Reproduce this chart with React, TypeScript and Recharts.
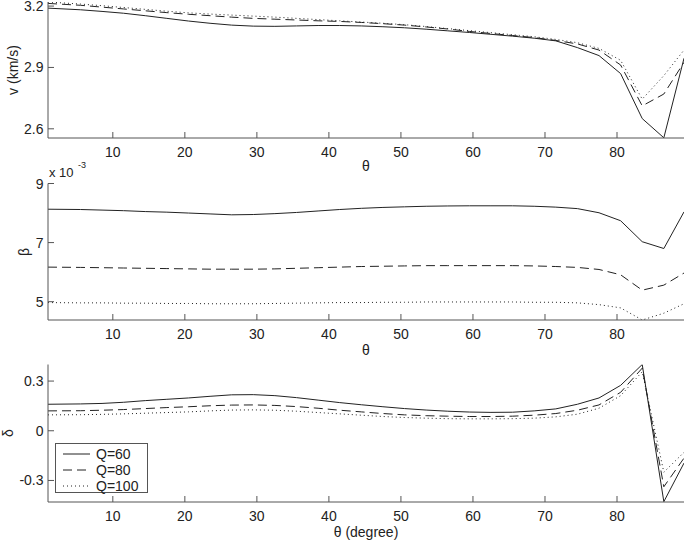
import React from 'react';
import { LineChart, Line, XAxis, YAxis } from 'recharts';

// ---- data ----
const theta = [1, 5.5, 8.5, 11.5, 14.5, 17.5, 20.5, 23.5, 26.5, 29.5, 32.5, 35.5, 38.5, 41.5, 44.5, 47.5, 50.5, 53.5, 56.5, 59.5, 62.5, 65.5, 68.5, 71.5, 74.5, 77.5, 80.5, 83.5, 86.5, 89.3];

const vQ60 = [3.19, 3.182, 3.174, 3.165, 3.153, 3.14, 3.127, 3.116, 3.107, 3.102, 3.101, 3.103, 3.105, 3.105, 3.103, 3.099, 3.094, 3.087, 3.079, 3.071, 3.062, 3.053, 3.043, 3.03, 2.997, 2.958, 2.87, 2.65, 2.556, 2.945];
const vQ80 = [3.213, 3.204, 3.195, 3.186, 3.177, 3.168, 3.16, 3.153, 3.146, 3.14, 3.136, 3.132, 3.128, 3.125, 3.12, 3.114, 3.107, 3.098, 3.088, 3.076, 3.066, 3.056, 3.046, 3.032, 3.015, 2.985, 2.912, 2.712, 2.77, 2.925];
const vQ100 = [3.22, 3.21, 3.202, 3.193, 3.184, 3.175, 3.167, 3.161, 3.156, 3.151, 3.146, 3.14, 3.134, 3.128, 3.122, 3.116, 3.109, 3.1, 3.09, 3.08, 3.07, 3.06, 3.05, 3.037, 3.021, 2.993, 2.935, 2.745, 2.86, 2.985];

// beta in units of 1e-3
const bQ60 = [8.13, 8.12, 8.1, 8.08, 8.05, 8.03, 8.0, 7.97, 7.94, 7.95, 7.98, 8.02, 8.07, 8.12, 8.16, 8.19, 8.21, 8.23, 8.24, 8.245, 8.245, 8.245, 8.23, 8.2, 8.15, 8.01, 7.74, 7.03, 6.8, 8.04];
const bQ80 = [6.17, 6.16, 6.15, 6.14, 6.13, 6.12, 6.11, 6.1, 6.1, 6.1, 6.11, 6.13, 6.15, 6.17, 6.19, 6.2, 6.21, 6.22, 6.22, 6.22, 6.22, 6.22, 6.21, 6.19, 6.16, 6.09, 5.91, 5.39, 5.56, 5.97];
const bQ100 = [4.97, 4.96, 4.96, 4.95, 4.95, 4.94, 4.94, 4.93, 4.93, 4.93, 4.94, 4.95, 4.96, 4.97, 4.97, 4.98, 4.98, 4.99, 4.99, 4.99, 4.99, 4.99, 4.98, 4.98, 4.96, 4.9, 4.79, 4.38, 4.61, 4.93];

const dQ60 = [0.16, 0.162, 0.165, 0.172, 0.182, 0.19, 0.198, 0.208, 0.217, 0.218, 0.212, 0.2, 0.185, 0.17, 0.157, 0.145, 0.134, 0.125, 0.118, 0.113, 0.111, 0.112, 0.12, 0.132, 0.16, 0.198, 0.274, 0.4, -0.428, -0.195];
const dQ80 = [0.12, 0.121, 0.124, 0.128, 0.134, 0.14, 0.145, 0.151, 0.155, 0.156, 0.153, 0.146, 0.136, 0.124, 0.114, 0.104, 0.096, 0.091, 0.088, 0.086, 0.086, 0.088, 0.094, 0.104, 0.124, 0.156, 0.232, 0.378, -0.338, -0.165];
const dQ100 = [0.096, 0.097, 0.099, 0.102, 0.106, 0.11, 0.114, 0.12, 0.125, 0.126, 0.124, 0.118, 0.11, 0.102, 0.094, 0.086, 0.08, 0.076, 0.073, 0.072, 0.072, 0.073, 0.076, 0.084, 0.1, 0.136, 0.212, 0.356, -0.25, -0.13];

const xTicks = [10, 20, 30, 40, 50, 60, 70, 80];
const vTicks = [2.6, 2.9, 3.2];
const bTicks = [5, 7, 9];
const dTicks = [-0.3, 0, 0.3];
const seriesNames = ['Q=60', 'Q=80', 'Q=100'];

// ---- styles ----
const FONT = '"Liberation Sans", Arial, Helvetica, sans-serif';
const FRAME = '#555';
const INK = '#222';
const TL = 6;
const dashes = [undefined, '9 5', '1 3'];

const BottomTick = (p: any) => (
  <g>
    <line x1={p.x} y1={p.y} x2={p.x} y2={p.y - TL} stroke={FRAME} />
    <text x={p.x} y={p.y + 18.5} textAnchor="middle" fontSize={14} fontFamily={FONT} fill={INK}>
      {p.payload.value}
    </text>
  </g>
);
const TopTick = (p: any) => (
  <line x1={p.x} y1={p.y} x2={p.x} y2={p.y + TL} stroke={FRAME} />
);
const makeLeftTick = (fmt: (v: number) => string) => (p: any) => (
  <g>
    <line x1={p.x} y1={p.y} x2={p.x + TL} y2={p.y} stroke={FRAME} />
    <text x={p.x - 4.5} y={p.y + 5} textAnchor="end" fontSize={14} fontFamily={FONT} fill={INK}>
      {fmt(p.payload.value)}
    </text>
  </g>
);
const RightTick = (p: any) => (
  <line x1={p.x} y1={p.y} x2={p.x - TL} y2={p.y} stroke={FRAME} />
);

function Panel(props: {
  series: number[][];
  top: number;
  height: number;
  marginTop: number;
  yDomain: [number, number];
  yTicks: number[];
  fmt: (v: number) => string;
}) {
  const { series, top, height, marginTop, yDomain, yTicks, fmt } = props;
  const data = theta.map((t, i) => ({ theta: t, q60: series[0][i], q80: series[1][i], q100: series[2][i] }));
  const keys = ['q60', 'q80', 'q100'];
  return (
    <div style={{ position: 'absolute', left: 0, top }}>
      <LineChart width={685} height={height} data={data} margin={{ top: marginTop, right: 1, bottom: 0, left: 0 }}>
        <XAxis xAxisId="b" dataKey="theta" type="number" domain={[1, 89.3]} ticks={xTicks} allowDataOverflow
          interval={0} tickSize={0} tickMargin={0} tickLine={false} axisLine={{ stroke: FRAME }} height={42} tick={BottomTick} />
        <XAxis xAxisId="t" orientation="top" dataKey="theta" type="number" domain={[1, 89.3]} ticks={xTicks} allowDataOverflow
          interval={0} tickSize={0} tickMargin={0} tickLine={false} axisLine={{ stroke: FRAME }} height={0} tick={TopTick} />
        <YAxis yAxisId="l" type="number" domain={yDomain} ticks={yTicks} allowDataOverflow interval={0}
          width={48} tickSize={0} tickMargin={0} tickLine={false} axisLine={{ stroke: FRAME }} tick={makeLeftTick(fmt)} />
        <YAxis yAxisId="r" orientation="right" type="number" domain={yDomain} ticks={yTicks} allowDataOverflow interval={0}
          width={0} tickSize={0} tickMargin={0} tickLine={false} axisLine={{ stroke: FRAME }} tick={RightTick} />
        {keys.map((k, i) => (
          <Line key={k} xAxisId="b" yAxisId="l" type="linear" dataKey={k} stroke={INK} strokeWidth={1}
            strokeDasharray={dashes[i]} dot={false} activeDot={false} isAnimationActive={false} />
        ))}
      </LineChart>
    </div>
  );
}

export default function App() {
  const txt = { fontFamily: FONT, fontSize: 14, fill: INK } as const;
  return (
    <div style={{ position: 'absolute', left: 0, top: 0, width: 685, height: 541, background: '#fff', fontFamily: FONT }}>
      <Panel series={[vQ60, vQ80, vQ100]} top={0} height={180} marginTop={2} yDomain={[2.555, 3.22]} yTicks={vTicks} fmt={(v) => v.toFixed(1)} />
      <Panel series={[bQ60, bQ80, bQ100]} top={170} height={192} marginTop={13.5} yDomain={[4.38, 9]} yTicks={bTicks} fmt={(v) => String(v)} />
      <Panel series={[dQ60, dQ80, dQ100]} top={350} height={194} marginTop={14.5} yDomain={[-0.43, 0.4]} yTicks={dTicks} fmt={(v) => (v === 0 ? '0' : v < 0 ? '-' + Math.abs(v).toFixed(1) : v.toFixed(1))} />
      <svg width={685} height={541} style={{ position: 'absolute', left: 0, top: 0, pointerEvents: 'none' }}>
        <text {...txt} x={13} y={70} textAnchor="middle" dominantBaseline="central" transform="rotate(-90 13 70)">v (km/s)</text>
        <text {...txt} x={366} y={171} textAnchor="middle">θ</text>
        <text {...txt} x={49} y={177} fontSize={13}>x 10</text>
        <text {...txt} x={78} y={168} fontSize={9}>-3</text>
        <text {...txt} x={24} y={252} textAnchor="middle" dominantBaseline="central" transform="rotate(-90 24 252)">β</text>
        <text {...txt} x={366} y={355} textAnchor="middle">θ</text>
        <text {...txt} x={8} y={433} textAnchor="middle" dominantBaseline="central" transform="rotate(-90 8 433)">δ</text>
        <text {...txt} x={366} y={537} textAnchor="middle">θ (degree)</text>
        <rect x={55.5} y={443.5} width={92} height={49} fill="#fff" stroke={FRAME} />
        {seriesNames.map((n, i) => (
          <g key={n}>
            <line x1={63} x2={90} y1={454 + i * 16} y2={454 + i * 16} stroke={INK} strokeDasharray={dashes[i]} />
            <text {...txt} x={96} y={459 + i * 16}>{n}</text>
          </g>
        ))}
      </svg>
    </div>
  );
}
